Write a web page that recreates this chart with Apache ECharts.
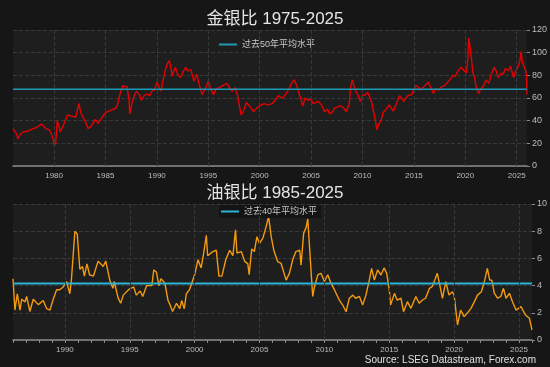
<!DOCTYPE html>
<html><head><meta charset="utf-8">
<script src="https://cdn.jsdelivr.net/npm/echarts@6/dist/echarts.min.js"></script>
<style>html,body{margin:0;padding:0;background:#161616;}#c{width:550px;height:367px;}</style>
</head><body><div id="c"></div>
<script>
// ---- Data ----
const goldTitle = '金银比 1975-2025';
const oilTitle = '油银比 1985-2025';
const goldAvgName = '过去50年平均水平';
const oilAvgName = '过去40年平均水平';
const goldAvg = 67.7;
const oilAvg = 4.15;
const goldYears = [1976.0,1976.3,1976.5,1976.7,1977.0,1977.5,1977.95,1978.3,1978.76,1979.0,1979.2,1979.5,1979.7,1979.9,1980.0,1980.15,1980.3,1980.45,1980.6,1980.9,1981.3,1981.7,1982.1,1982.4,1982.6,1982.9,1983.1,1983.3,1983.6,1984.0,1984.3,1984.6,1985.0,1985.5,1986.0,1986.2,1986.45,1986.7,1986.9,1987.1,1987.3,1987.35,1987.6,1987.8,1988.0,1988.3,1988.5,1988.75,1989.0,1989.3,1989.5,1989.75,1990.0,1990.2,1990.4,1990.6,1990.8,1991.0,1991.2,1991.35,1991.5,1991.65,1991.8,1992.0,1992.3,1992.55,1992.8,1993.0,1993.3,1993.45,1993.6,1993.9,1994.1,1994.4,1994.7,1995.0,1995.2,1995.5,1995.75,1996.0,1996.4,1996.8,1997.0,1997.3,1997.6,1997.85,1998.05,1998.2,1998.4,1998.7,1999.0,1999.4,1999.7,2000.0,2000.4,2000.8,2001.2,2001.5,2001.8,2002.2,2002.6,2002.85,2003.1,2003.35,2003.6,2003.9,2004.2,2004.4,2004.7,2005.0,2005.2,2005.7,2006.0,2006.3,2006.6,2006.8,2007.1,2007.3,2007.8,2008.1,2008.4,2008.7,2008.85,2009.0,2009.2,2009.4,2009.6,2009.8,2010.0,2010.3,2010.5,2010.7,2010.9,2011.0,2011.2,2011.4,2011.55,2011.8,2012.0,2012.3,2012.6,2013.0,2013.3,2013.6,2013.8,2014.0,2014.4,2014.8,2015.0,2015.2,2015.4,2015.6,2015.85,2016.1,2016.4,2016.6,2016.9,2017.1,2017.4,2017.7,2018.0,2018.3,2018.5,2018.8,2019.0,2019.3,2019.6,2019.8,2020.1,2020.25,2020.33,2020.45,2020.6,2020.75,2020.9,2021.1,2021.3,2021.5,2021.8,2022.0,2022.3,2022.5,2022.8,2023.0,2023.2,2023.5,2023.7,2023.9,2024.2,2024.4,2024.7,2024.9,2025.1,2025.3,2025.42,2025.55,2025.7,2025.85,2025.95,2026.0];
const goldRatio = [33,29,24,28,30,31,33,34,37,35,33,32,29,24,18,20,40,36,30,36,45,44,43,55,47,41.5,38,33,35,41,37.5,42,47,49,51,55,65,71,70,70,57,46,57,62,66,63,58,62,63.5,62,66,67,74,70,66,76,84,90,93,87,79,84,87,81,78,83,87,84,85,80,75,81,72,63,68,75,69,63,68,69,71,73,70,66,69,62,52,45,48,56,53,48,51,53,55,54,55,58,62,60,64,68,73,76,71,62,53,60,58,59,55,57,54,48,50,46,48,51,53,52,48,54,70,76,70,65,62,57,62,63,65,61,56,51,43,32,36,40,47,50,54,48.5,55,62,60,57,62,63,68,71,70,67,69,71,74,70,64,68,67,70,71,74,76,80,79,84,87,85,82,95,113,106,94,82,78,68,64,68,71,76,73,80,87,84,78,82,81,86,84,88,78,84,87,92,101,92,88,85,80,63];
const oilYears = [1986.0,1986.15,1986.33,1986.54,1986.67,1986.92,1987.05,1987.3,1987.56,1987.95,1988.33,1988.6,1988.85,1989.1,1989.36,1989.6,1989.87,1990.13,1990.38,1990.5,1990.77,1990.95,1991.15,1991.36,1991.5,1991.7,1991.9,1992.2,1992.56,1992.95,1993.15,1993.46,1993.7,1993.8,1994.1,1994.3,1994.5,1994.9,1995.3,1995.5,1995.8,1996.0,1996.3,1996.7,1996.85,1997.05,1997.25,1997.4,1997.7,1997.95,1998.1,1998.3,1998.6,1998.85,1999.0,1999.2,1999.36,1999.6,2000.0,2000.26,2000.5,2000.7,2000.9,2001.0,2001.4,2001.67,2001.87,2002.1,2002.4,2002.7,2002.95,2003.15,2003.26,2003.6,2003.85,2004.1,2004.2,2004.4,2004.6,2004.8,2005.0,2005.26,2005.5,2005.7,2005.9,2006.1,2006.4,2006.66,2007.05,2007.3,2007.56,2007.8,2008.1,2008.2,2008.4,2008.6,2008.72,2008.85,2009.0,2009.1,2009.23,2009.5,2009.74,2010.0,2010.26,2010.5,2010.77,2011.15,2011.41,2011.67,2011.92,2012.2,2012.4,2012.7,2012.95,2013.2,2013.46,2013.64,2013.85,2014.1,2014.36,2014.6,2014.8,2015.0,2015.1,2015.4,2015.6,2015.9,2016.1,2016.4,2016.67,2017.05,2017.3,2017.56,2017.8,2018.1,2018.3,2018.5,2018.7,2018.97,2019.1,2019.36,2019.6,2019.87,2020.0,2020.26,2020.5,2020.77,2021.0,2021.3,2021.56,2021.8,2022.1,2022.36,2022.56,2022.74,2022.9,2023.1,2023.36,2023.6,2023.8,2024.0,2024.26,2024.5,2024.77,2025.15,2025.5,2025.8,2026.0];
const oilRatio = [4.5,2.2,3.4,2.2,3.0,2.8,3.2,2.1,3.0,2.6,2.9,2.3,2.2,3.0,3.7,3.7,3.9,4.3,3.4,4.4,8.0,7.8,5.2,5.4,4.7,5.6,4.8,4.7,5.8,5.4,5.8,4.4,3.8,4.3,3.1,2.7,3.3,3.7,3.9,3.3,3.6,3.2,4.0,4.0,5.15,5.0,4.0,4.5,4.2,2.9,2.6,2.1,2.7,2.3,2.9,2.3,3.4,3.7,4.8,5.9,5.3,6.4,7.7,6.2,6.5,6.6,4.7,4.7,5.9,6.6,6.2,8.1,6.4,6.5,5.8,5.6,4.8,6.7,6.5,7.6,7.1,7.5,8.3,9.07,7.6,6.6,5.76,5.64,4.4,4.9,5.9,6.5,6.6,5.5,7.84,8.3,8.9,6.9,4.66,3.2,3.9,4.8,4.9,4.3,4.8,4.2,3.7,2.94,2.57,2.08,3.07,3.3,3.07,3.2,2.57,3.3,4.4,5.27,4.4,5.15,4.78,5.3,4.9,3.7,2.57,3.43,2.94,3.07,2.08,2.82,2.33,3.2,2.7,2.94,3.07,3.8,3.92,4.4,4.9,3.68,3.07,4.29,3.3,3.55,3.3,1.1,2.2,1.72,1.96,2.33,2.82,3.3,3.55,4.4,5.27,4.4,4.4,3.43,3.07,3.2,3.8,3.07,3.43,2.82,2.2,2.45,1.84,1.6,0.75];
const goldXLabels = [1980,1985,1990,1995,2000,2005,2010,2015,2020,2025];
const oilXLabels = [1990,1995,2000,2005,2010,2015,2020,2025];
const oilXTicks = [];
for (let y = 1986; y <= 2026; y++) oilXTicks.push(y);
const sourceText = 'Source: LSEG Datastream, Forex.com';

// ---- Build ----
const zip = (a, b) => a.map((v, i) => [v, b[i]]);
const FONT = '"Liberation Sans","Noto Sans CJK SC",sans-serif';
const gridLine = {type:'dashed', color:'#383838', width:1};
const vGrid = (years) => ({
  silent:true, symbol:'none', label:{show:false}, animation:false,
  lineStyle: gridLine,
  data: years.map(v => ({xAxis: v}))
});

const chart = echarts.init(document.getElementById('c'), null, {renderer:'canvas'});
chart.setOption({
  backgroundColor:'#161616',
  animation:false,
  textStyle:{fontFamily:FONT},
  title:[
    {text:goldTitle, left:'center', top:6, textStyle:{color:'#e4e4e4', fontSize:17, fontWeight:'normal', fontFamily:FONT}},
    {text:oilTitle, left:'center', top:180, textStyle:{color:'#e4e4e4', fontSize:17, fontWeight:'normal', fontFamily:FONT}}
  ],
  legend:[
    {data:[goldAvgName], left:214, top:35, itemWidth:18, itemHeight:2, icon:'rect', itemGap:4,
     textStyle:{color:'#c8c8c8', fontSize:9, fontFamily:FONT}},
    {data:[oilAvgName], left:219, top:205, itemWidth:18, itemHeight:2, icon:'rect',
     backgroundColor:'#141414', padding:[2,4,2,2],
     textStyle:{color:'#c8c8c8', fontSize:9, fontFamily:FONT}}
  ],
  grid:[
    {left:13, right:17, top:30, height:136, show:true, backgroundColor:'#1e1e1e', borderWidth:0},
    {left:13, right:16, top:204, height:136, show:true, backgroundColor:'#1e1e1e', borderWidth:0}
  ],
  xAxis:[
    {type:'value', gridIndex:0, min:1976, max:2026,
     axisLine:{show:true, lineStyle:{color:'#8a8a8a', width:1.5}},
     axisTick:{show:false},
     axisLabel:{customValues:goldXLabels, color:'#bdbdbd', fontSize:8, margin:6, formatter:v=>String(v)},
     splitLine:{show:false}},
    {type:'value', gridIndex:1, min:1986, max:2026,
     axisLine:{show:true, lineStyle:{color:'#8a8a8a', width:1.5}},
     axisTick:{show:true, customValues:oilXTicks, length:3, lineStyle:{color:'#8a8a8a'}},
     axisLabel:{customValues:oilXLabels, color:'#bdbdbd', fontSize:8, margin:6, formatter:v=>String(v)},
     splitLine:{show:false}}
  ],
  yAxis:[
    {type:'value', gridIndex:0, position:'right', min:0, max:120, interval:20,
     axisLine:{show:false}, axisTick:{show:true, length:3, lineStyle:{color:'#8a8a8a'}},
     axisLabel:{color:'#bdbdbd', fontSize:9, margin:5},
     splitLine:{show:true, lineStyle:gridLine}},
    {type:'value', gridIndex:1, position:'right', min:0, max:10, interval:2,
     axisLine:{show:false}, axisTick:{show:true, length:3, lineStyle:{color:'#8a8a8a'}},
     axisLabel:{color:'#bdbdbd', fontSize:9, margin:5},
     splitLine:{show:true, lineStyle:gridLine}}
  ],
  series:[
    {name:'grid0', type:'line', xAxisIndex:0, yAxisIndex:0, data:[], markLine:vGrid(goldXLabels), z:1},
    {name:'grid1', type:'line', xAxisIndex:1, yAxisIndex:1, data:[], markLine:vGrid(oilXLabels), z:1},
    {name:'金银比', type:'line', xAxisIndex:0, yAxisIndex:0, data:zip(goldYears, goldRatio),
     showSymbol:false, lineStyle:{color:'#e60000', width:1.4}, itemStyle:{color:'#e60000'}, z:3},
    {name:goldAvgName, type:'line', xAxisIndex:0, yAxisIndex:0, data:[[1976,goldAvg],[2026,goldAvg]],
     showSymbol:false, lineStyle:{color:'#1e9ab4', width:1.4}, itemStyle:{color:'#1e9ab4'}, z:4},
    {name:'油银比', type:'line', xAxisIndex:1, yAxisIndex:1, data:zip(oilYears, oilRatio),
     showSymbol:false, lineStyle:{color:'#f39a0e', width:1.4}, itemStyle:{color:'#f39a0e'}, z:3},
    {name:oilAvgName, type:'line', xAxisIndex:1, yAxisIndex:1, data:[[1986,oilAvg],[2026,oilAvg]],
     showSymbol:false, lineStyle:{color:'#2ab4d6', width:2}, itemStyle:{color:'#2ab4d6'}, z:4}
  ],
  graphic:[
    {type:'text', right:14, top:355, style:{text:sourceText, fill:'#e0e0e0', font:'10px '+FONT}}
  ]
});
</script></body></html>
